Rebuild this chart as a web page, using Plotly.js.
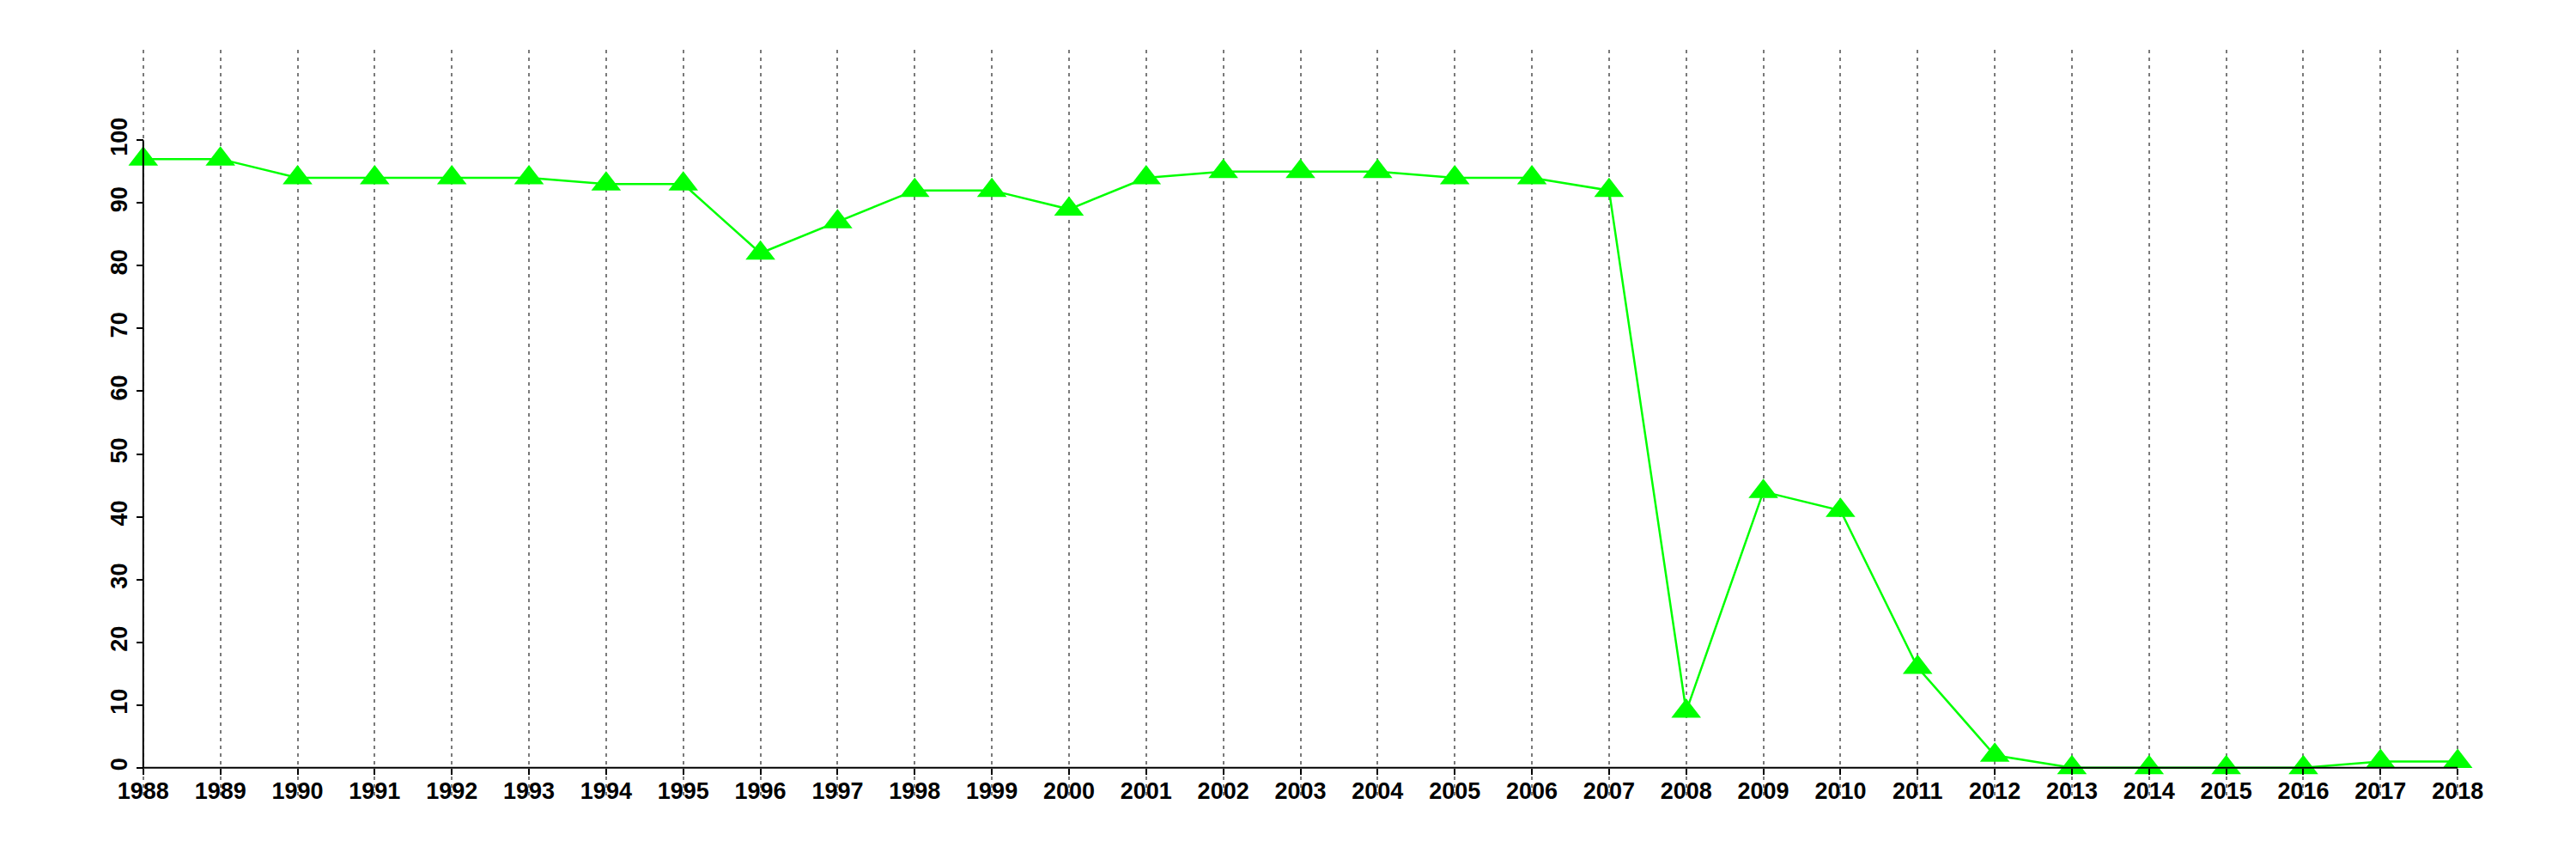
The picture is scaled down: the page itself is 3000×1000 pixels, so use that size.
<!DOCTYPE html>
<html>
<head>
<meta charset="utf-8">
<script src="https://cdn.plot.ly/plotly-3.0.1.min.js"></script>
<style>html,body{margin:0;padding:0;background:#fff;}</style>
</head>
<body>
<div id="chart" style="width:3000px;height:1000px;"></div>
<script>
const years = [1988,1989,1990,1991,1992,1993,1994,1995,1996,1997,1998,1999,2000,2001,2002,2003,2004,2005,2006,2007,2008,2009,2010,2011,2012,2013,2014,2015,2016,2017,2018];
const values = [97,97,94,94,94,94,93,93,82,87,92,92,89,94,95,95,95,94,94,92,9,44,41,16,2,0,0,0,0,1,1];
const yTicks = [0,10,20,30,40,50,60,70,80,90,100];
const xTickLabels = years.map(String);

const xPad = (years[years.length-1]-years[0])*0.04;
const xRange = [years[0]-xPad, years[years.length-1]+xPad];
const yLim = [0,110];
const yPad = (yLim[1]-yLim[0])*0.04;
const yRange = [yLim[0]-yPad, yLim[1]+yPad];

const xAxisPos = (yTicks[0]-yRange[0])/(yRange[1]-yRange[0]);
const yAxisPos = (years[0]-xRange[0])/(xRange[1]-xRange[0]);

const tickFont = {family:'Liberation Sans, Arial, sans-serif', size:27, color:'#000', weight:'bold'};

const trace = {
  x: years, y: values, type:'scatter', mode:'lines+markers',
  line:{color:'#00FF00', width:2.5},
  marker:{symbol:'triangle-up', size:30, color:'#00FF00', line:{width:0}},
  cliponaxis:false, showlegend:false, hoverinfo:'x+y'
};

const layout = {
  width:3000, height:1000,
  margin:{l:59, r:30, t:58, b:74, pad:0},
  paper_bgcolor:'#fff', plot_bgcolor:'#fff',
  xaxis:{
    range:xRange, anchor:'free', position:xAxisPos,
    tickmode:'array', tickvals:years, ticktext:xTickLabels,
    ticks:'outside', ticklen:7, tickwidth:2, tickcolor:'#000',
    tickfont:tickFont, tickangle:0, ticklabelstandoff:-4,
    showgrid:true, gridcolor:'#7a7a7a', gridwidth:2, griddash:'4px,5px',
    zeroline:false, showline:false
  },
  yaxis:{
    range:yRange, anchor:'free', position:yAxisPos,
    tickmode:'array', tickvals:yTicks, ticktext:yTicks.map(String),
    ticks:'outside', ticklen:8, tickwidth:2, tickcolor:'#000',
    tickfont:tickFont, tickangle:-90,
    showgrid:false, zeroline:false, showline:false
  },
  shapes:[
    {type:'line', xref:'x', yref:'y', x0:years[0], x1:years[years.length-1], y0:yTicks[0], y1:yTicks[0], line:{color:'#000', width:2}, layer:'above'},
    {type:'line', xref:'x', yref:'y', x0:years[0], x1:years[0], y0:yTicks[0], y1:yTicks[yTicks.length-1], line:{color:'#000', width:2}, layer:'above'}
  ]
};

Plotly.newPlot('chart', [trace], layout, {displayModeBar:false, staticPlot:true});
</script>
</body>
</html>
